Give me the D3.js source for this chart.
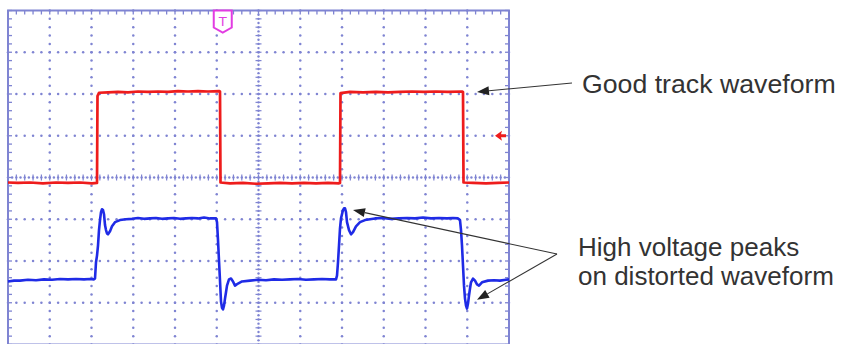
<!DOCTYPE html>
<html><head><meta charset="utf-8">
<script src="https://cdn.jsdelivr.net/npm/d3@7"></script>
<style>body{margin:0;background:#fff}svg{display:block}</style>
</head><body>
<svg id="c" width="844" height="344"></svg>
<script>
// ---- data (time in scope samples, 41.75 samples per division; voltage in divisions) ----
const redT = [0,10,22,35,48,60,72,84,89,89.5,91,100,110,120,130,140,150,160,170,180,190,200,211,212,212.5,222,235,248,260,272,284,296,308,320,331,332,332.5,342,355,368,380,392,404,416,428,440,454,455,455.5,465,478,490,501];
const redV = [-0.12,-0.13,-0.12,-0.14,-0.12,-0.13,-0.12,-0.14,-0.13,1.95,2.03,2.04,2.05,2.04,2.06,2.05,2.06,2.05,2.07,2.06,2.07,2.06,2.07,2.06,-0.12,-0.14,-0.13,-0.15,-0.14,-0.13,-0.14,-0.13,-0.14,-0.13,-0.14,-0.13,2.02,2.05,2.04,2.05,2.04,2.05,2.06,2.05,2.06,2.05,2.06,2.05,-0.12,-0.13,-0.14,-0.13,-0.12];

const blueT = [0,6,12,20,28,36,44,52,60,68,76,82,86,87,88,89,90,91,92,93,94,95,96,97,98,99,100,102,104,107,112,118,124,130,136,142,148,154,160,166,172,178,184,190,196,202,208,209,210,211,212,213,214,215,216,217,218,219,221,223,225,227,230,234,242,250,258,266,274,282,290,298,306,314,322,328,329,330,331,332,333,335,336,337,338,339,341,343,345,348,352,357,367,375,383,391,399,407,415,423,431,439,445,450,452,453,454,455,456,457,458,459,460,461,462,463,465,467,469,471,474,480,486,492,498,501];
const blueV = [-2.49,-2.47,-2.47,-2.45,-2.46,-2.44,-2.45,-2.43,-2.44,-2.43,-2.44,-2.43,-2.44,-2.42,-2.03,-1.87,-1.63,-1.26,-1.02,-0.83,-0.76,-0.78,-0.88,-1.14,-1.26,-1.34,-1.36,-1.29,-1.17,-1.07,-1.02,-1.0,-0.99,-0.97,-0.99,-0.98,-0.97,-0.99,-0.98,-0.97,-0.99,-0.98,-0.97,-0.98,-0.96,-0.98,-0.98,-1.07,-1.50,-1.99,-2.47,-2.97,-3.12,-3.16,-3.07,-2.90,-2.75,-2.59,-2.44,-2.42,-2.49,-2.59,-2.54,-2.49,-2.47,-2.45,-2.46,-2.44,-2.45,-2.44,-2.43,-2.45,-2.44,-2.43,-2.44,-2.44,-2.35,-2.03,-1.63,-1.22,-0.98,-0.78,-0.74,-0.74,-0.83,-1.07,-1.26,-1.36,-1.31,-1.17,-1.07,-1.02,-0.98,-0.97,-0.99,-0.98,-0.97,-0.98,-0.96,-0.98,-0.97,-0.98,-0.97,-0.98,-1.02,-1.26,-1.63,-2.11,-2.59,-2.90,-3.07,-3.14,-3.02,-2.83,-2.66,-2.51,-2.42,-2.47,-2.56,-2.59,-2.51,-2.47,-2.46,-2.47,-2.45,-2.44];

const annotationLines = [["Good track waveform"], ["High voltage peaks", "on distorted waveform"]];
const triggerLabel = "T";
const nDivX = 12, nDivY = 8, samplesPerDiv = 41.75;

// ---- scales ----
const svg = d3.select("#c");
const x = d3.scaleLinear().domain([0, nDivX * samplesPerDiv]).range([8, 509]);
const y = d3.scaleLinear().domain([-nDivY / 2, nDivY / 2]).range([344.5, 10.5]);
const gridCol = "#7f84d2";

// ---- graticule ----
const g = svg.append("g");
const minorY = d3.range(0, nDivY * 5 + 1).map(k => -4 + k * 0.2);
const minorX = d3.range(0, nDivX * 5 + 1).map(k => k * samplesPerDiv / 5);
for (let i = 1; i < nDivX; i++) {
  if (i === nDivX / 2) continue;
  const xx = x(i * samplesPerDiv);
  g.selectAll(null).data(minorY).enter().append("circle")
    .attr("cx", xx).attr("cy", d => y(d)).attr("r", 1.25).attr("fill", gridCol);
}
for (let j = 1; j < nDivY; j++) {
  if (j === nDivY / 2) continue;
  const yy = y(-4 + j);
  g.selectAll(null).data(minorX).enter().append("circle")
    .attr("cx", d => x(d)).attr("cy", yy).attr("r", 1.25).attr("fill", gridCol);
}
// center axes
const cx = x(nDivX / 2 * samplesPerDiv), cy = y(0);
const fineY = d3.range(0, nDivY * 10 + 1).map(k => -4 + k * 0.1);
const fineX = d3.range(0, nDivX * 10 + 1).map(k => k * samplesPerDiv / 10);
g.selectAll(null).data(fineY).enter().append("circle")
  .attr("cx", cx).attr("cy", d => y(d)).attr("r", 1.2).attr("fill", gridCol);
g.selectAll(null).data(fineX).enter().append("circle")
  .attr("cx", d => x(d)).attr("cy", cy).attr("r", 1.2).attr("fill", gridCol);
g.selectAll(null).data(minorY).enter().append("line")
  .attr("x1", cx - 3).attr("x2", cx + 3).attr("y1", d => y(d)).attr("y2", d => y(d))
  .attr("stroke", gridCol).attr("stroke-width", 1.2);
g.selectAll(null).data(minorX).enter().append("line")
  .attr("y1", cy - 3).attr("y2", cy + 3).attr("x1", d => x(d)).attr("x2", d => x(d))
  .attr("stroke", gridCol).attr("stroke-width", 1.2);
// frame
const L = x(0), R = x(nDivX * samplesPerDiv), T = y(4), B = y(-4);
g.append("rect").attr("x", L).attr("y", T).attr("width", R - L).attr("height", B - T)
  .attr("fill", "none").attr("stroke", gridCol).attr("stroke-width", 2);
g.selectAll(null).data(minorY).enter().append("line")
  .attr("x1", L).attr("x2", L + 4).attr("y1", d => y(d)).attr("y2", d => y(d))
  .attr("stroke", gridCol).attr("stroke-width", 1.3);
g.selectAll(null).data(minorY).enter().append("line")
  .attr("x1", R - 4).attr("x2", R).attr("y1", d => y(d)).attr("y2", d => y(d))
  .attr("stroke", gridCol).attr("stroke-width", 1.3);
g.selectAll(null).data(minorX).enter().append("line")
  .attr("x1", d => x(d)).attr("x2", d => x(d)).attr("y1", T).attr("y2", T + 4)
  .attr("stroke", gridCol).attr("stroke-width", 1.3);

// ---- waveforms ----
const line = d3.line().x(d => x(d[0])).y(d => y(d[1]));
svg.append("path").datum(redT.map((t, i) => [t, redV[i]]))
  .attr("d", line).attr("fill", "none").attr("stroke", "#ee1c1c")
  .attr("stroke-width", 2.7).attr("stroke-linejoin", "round");
svg.append("path").datum(blueT.map((t, i) => [t, blueV[i]]))
  .attr("d", line).attr("fill", "none").attr("stroke", "#1f2be6")
  .attr("stroke-width", 2.6).attr("stroke-linejoin", "round");

// ---- trigger marker ----
const tx = x(5 * samplesPerDiv) + 6;
svg.append("path")
  .attr("d", `M${tx - 9},${T} V${T + 17} L${tx},${T + 22} L${tx + 9},${T + 17} V${T} Z`)
  .attr("fill", "#fff").attr("stroke", "#e23ce2").attr("stroke-width", 2);
svg.append("text").attr("x", tx).attr("y", T + 15).attr("text-anchor", "middle")
  .attr("font-family", "DejaVu Sans, sans-serif").attr("font-size", 13)
  .attr("fill", "#e23ce2").text(triggerLabel);

// ---- channel level marker ----
const my = y(1), mx = R - 14;
svg.append("path")
  .attr("d", `M${mx},${my} L${mx + 7},${my - 5} L${mx + 6},${my - 1.6} L${mx + 11},${my - 1.6} L${mx + 11},${my + 1.6} L${mx + 6},${my + 1.6} L${mx + 7},${my + 5} Z`)
  .attr("fill", "#ee1c1c");

// ---- annotations ----
const ann = svg.append("g");
function arrow(x1, y1, x2, y2) {
  const a = Math.atan2(y2 - y1, x2 - x1), len = 12, hw = 4.5;
  const bx = x2 - len * Math.cos(a), by = y2 - len * Math.sin(a);
  ann.append("line").attr("x1", x1).attr("y1", y1).attr("x2", bx).attr("y2", by)
    .attr("stroke", "#333").attr("stroke-width", 1.1);
  ann.append("path").attr("d",
    `M${x2},${y2} L${bx + hw * Math.sin(a)},${by - hw * Math.cos(a)} L${bx - hw * Math.sin(a)},${by + hw * Math.cos(a)} Z`)
    .attr("fill", "#222");
}
arrow(572, 83, x(469), y(2.05));
arrow(557, 254, x(345), y(-0.78));
arrow(557, 254, x(469), y(-2.93));

const font = "Liberation Sans, Arial, Helvetica, sans-serif";
ann.append("text").attr("x", 582).attr("y", 92.5).attr("font-family", font)
  .attr("font-size", 26.7).attr("fill", "#333").text(annotationLines[0][0]);
annotationLines[1].forEach((s, i) => {
  ann.append("text").attr("x", 578).attr("y", 256 + i * 29).attr("font-family", font)
    .attr("font-size", 26).attr("fill", "#333").text(s);
});
</script>
</body></html>
